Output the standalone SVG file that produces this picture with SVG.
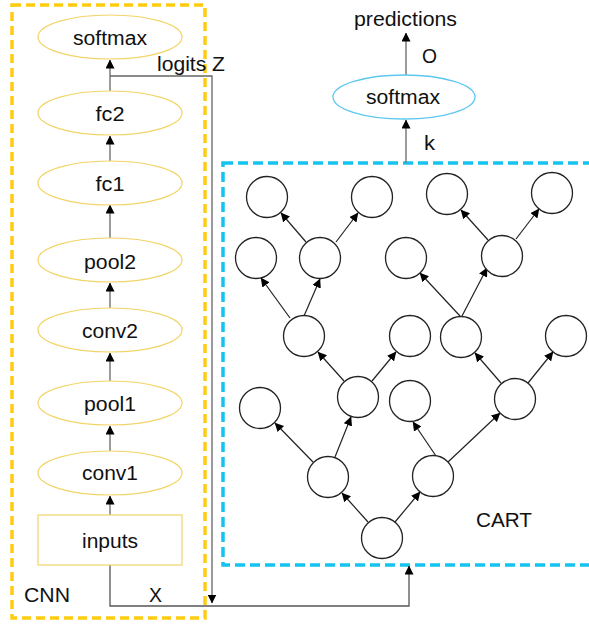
<svg xmlns="http://www.w3.org/2000/svg" width="589" height="624" viewBox="0 0 589 624">
  <defs>
    <marker id="arrow" markerUnits="userSpaceOnUse" markerWidth="9" markerHeight="9" refX="8.5" refY="4.5" orient="auto">
      <path d="M0,0 L9,4.5 L0,9 z" fill="#000"/>
    </marker>
    <style>
      .lbl { font-family: "Liberation Sans", Arial, sans-serif; font-size: 19.5px; fill: #111; }
      .mid { text-anchor: middle; }
      .cnn-node { fill: #fff; stroke: #f2d466; stroke-width: 1.2; }
      .soft-node { fill: #fff; stroke: #5cc8ef; stroke-width: 1.3; }
      .tree-node { fill: #fff; stroke: #222; stroke-width: 1.3; }
      .cnn-box { fill: none; stroke: #ffcc11; stroke-width: 3.5; stroke-dasharray: 9 5; }
      .cart-box { fill: none; stroke: #14c3f0; stroke-width: 3.5; stroke-dasharray: 10 5; }
      .flow { fill: none; stroke: #7a7a7a; stroke-width: 1.5; marker-end: url(#arrow); }
      .wire { fill: none; stroke: #666; stroke-width: 1.3; }
      .edge { fill: none; stroke: #222; stroke-width: 1.2; marker-end: url(#arrow); }
    </style>
  </defs>

  <rect width="589" height="624" fill="#fff"/>

  <!-- group frames -->
  <rect class="cnn-box" x="12" y="5" width="193" height="613"/>
  <rect class="cart-box" x="223" y="163" width="380" height="402"/>

  <!-- connectors -->
  <g id="connectors">
    <line class="flow" x1="110" y1="515" x2="110" y2="496"/>
    <line class="flow" x1="110" y1="451" x2="110" y2="426"/>
    <line class="flow" x1="110" y1="381" x2="110" y2="353"/>
    <line class="flow" x1="110" y1="308" x2="110" y2="283"/>
    <line class="flow" x1="110" y1="238" x2="110" y2="205"/>
    <line class="flow" x1="110" y1="161" x2="110" y2="136"/>
    <line class="flow" x1="110" y1="91" x2="110" y2="60"/>
    <!-- logits Z feed -->
    <path class="wire" d="M110,76 H212 V603" marker-end="url(#arrow)"/>
    <!-- input X feed -->
    <path class="wire" d="M110,565 V606 H409 V566" style="stroke:#555" marker-end="url(#arrow)"/>
    <!-- CART to softmax to predictions -->
    <line class="flow" x1="406" y1="163" x2="406" y2="120"/>
    <line class="flow" x1="406" y1="75" x2="406" y2="33"/>

    <!-- tree edges -->
    <line class="edge" x1="368" y1="522" x2="342" y2="493"/>
    <line class="edge" x1="395" y1="522" x2="420" y2="492"/>
    <line class="edge" x1="313" y1="462" x2="275" y2="423"/>
    <line class="edge" x1="335" y1="457" x2="351" y2="417"/>
    <line class="edge" x1="436" y1="456" x2="413" y2="422"/>
    <line class="edge" x1="448" y1="462" x2="500" y2="413"/>
    <line class="edge" x1="344" y1="381" x2="318" y2="352"/>
    <line class="edge" x1="372" y1="381" x2="396" y2="352"/>
    <line class="edge" x1="501" y1="383" x2="475" y2="353"/>
    <line class="edge" x1="528" y1="383" x2="553" y2="352"/>
    <line class="edge" x1="290" y1="318" x2="261" y2="278"/>
    <line class="edge" x1="304" y1="316" x2="320" y2="279"/>
    <line class="edge" x1="460" y1="316" x2="420" y2="273"/>
    <line class="edge" x1="462" y1="316" x2="487" y2="268"/>
    <line class="edge" x1="306" y1="242" x2="281" y2="213"/>
    <line class="edge" x1="336" y1="242" x2="358" y2="213"/>
    <line class="edge" x1="488" y1="240" x2="461" y2="210"/>
    <line class="edge" x1="516" y1="239" x2="539" y2="209"/>
  </g>

  <!-- CNN stack -->
  <g id="softmax-cnn"><ellipse class="cnn-node" cx="110" cy="37" rx="72" ry="22"/><text class="lbl mid" x="110" y="44.5" textLength="74" lengthAdjust="spacingAndGlyphs">softmax</text></g>
  <g id="fc2"><ellipse class="cnn-node" cx="110" cy="113" rx="72" ry="22"/><text class="lbl mid" x="110" y="121" textLength="29" lengthAdjust="spacingAndGlyphs">fc2</text></g>
  <g id="fc1"><ellipse class="cnn-node" cx="110" cy="183" rx="72" ry="22"/><text class="lbl mid" x="110" y="190.5" textLength="29" lengthAdjust="spacingAndGlyphs">fc1</text></g>
  <g id="pool2"><ellipse class="cnn-node" cx="110" cy="260" rx="72" ry="22"/><text class="lbl mid" x="110" y="268.5" textLength="52" lengthAdjust="spacingAndGlyphs">pool2</text></g>
  <g id="conv2"><ellipse class="cnn-node" cx="110" cy="330" rx="72" ry="22"/><text class="lbl mid" x="110" y="337.5" textLength="56" lengthAdjust="spacingAndGlyphs">conv2</text></g>
  <g id="pool1"><ellipse class="cnn-node" cx="110" cy="403" rx="72" ry="22"/><text class="lbl mid" x="110" y="410.5" textLength="52" lengthAdjust="spacingAndGlyphs">pool1</text></g>
  <g id="conv1"><ellipse class="cnn-node" cx="110" cy="473" rx="72" ry="22"/><text class="lbl mid" x="110" y="479.5" textLength="56" lengthAdjust="spacingAndGlyphs">conv1</text></g>
  <g id="inputs"><rect class="cnn-node" x="38" y="515" width="144" height="50"/><text class="lbl mid" x="110" y="547.5" textLength="56" lengthAdjust="spacingAndGlyphs">inputs</text></g>

  <!-- output head -->
  <g id="softmax-out"><ellipse class="soft-node" cx="404" cy="97" rx="71" ry="22"/><text class="lbl mid" x="403" y="103.5" textLength="74" lengthAdjust="spacingAndGlyphs">softmax</text></g>

  <!-- tree nodes -->
  <g id="t1"><circle class="tree-node" cx="267" cy="197" r="20.5"/></g>
  <g id="t2"><circle class="tree-node" cx="372" cy="197" r="20.5"/></g>
  <g id="t3"><circle class="tree-node" cx="447" cy="194" r="20.5"/></g>
  <g id="t4"><circle class="tree-node" cx="552" cy="193" r="20.5"/></g>
  <g id="t5"><circle class="tree-node" cx="256" cy="258" r="20.5"/></g>
  <g id="t6"><circle class="tree-node" cx="320" cy="258" r="20.5"/></g>
  <g id="t7"><circle class="tree-node" cx="406" cy="258" r="20.5"/></g>
  <g id="t8"><circle class="tree-node" cx="502" cy="256" r="20.5"/></g>
  <g id="t9"><circle class="tree-node" cx="304" cy="336" r="20.5"/></g>
  <g id="t10"><circle class="tree-node" cx="410" cy="336" r="20.5"/></g>
  <g id="t11"><circle class="tree-node" cx="461" cy="337" r="20.5"/></g>
  <g id="t12"><circle class="tree-node" cx="566" cy="336" r="20.5"/></g>
  <g id="t13"><circle class="tree-node" cx="260" cy="408" r="20.5"/></g>
  <g id="t14"><circle class="tree-node" cx="358" cy="397" r="20.5"/></g>
  <g id="t15"><circle class="tree-node" cx="410" cy="401" r="20.5"/></g>
  <g id="t16"><circle class="tree-node" cx="515" cy="399" r="20.5"/></g>
  <g id="t17"><circle class="tree-node" cx="328" cy="477" r="20.5"/></g>
  <g id="t18"><circle class="tree-node" cx="433" cy="476" r="20.5"/></g>
  <g id="t19"><circle class="tree-node" cx="382" cy="538" r="20.5"/></g>

  <!-- free labels -->
  <text class="lbl" x="157" y="71" textLength="68" lengthAdjust="spacingAndGlyphs">logits Z</text>
  <text class="lbl" x="24" y="602" textLength="46" lengthAdjust="spacingAndGlyphs">CNN</text>
  <text class="lbl" x="149" y="602" textLength="13" lengthAdjust="spacingAndGlyphs">X</text>
  <text class="lbl" x="476" y="527" textLength="56" lengthAdjust="spacingAndGlyphs">CART</text>
  <text class="lbl" x="354" y="26" textLength="103" lengthAdjust="spacingAndGlyphs">predictions</text>
  <text class="lbl" x="422" y="63" textLength="15" lengthAdjust="spacingAndGlyphs">O</text>
  <text class="lbl" x="424" y="150" textLength="11" lengthAdjust="spacingAndGlyphs">k</text>
</svg>
